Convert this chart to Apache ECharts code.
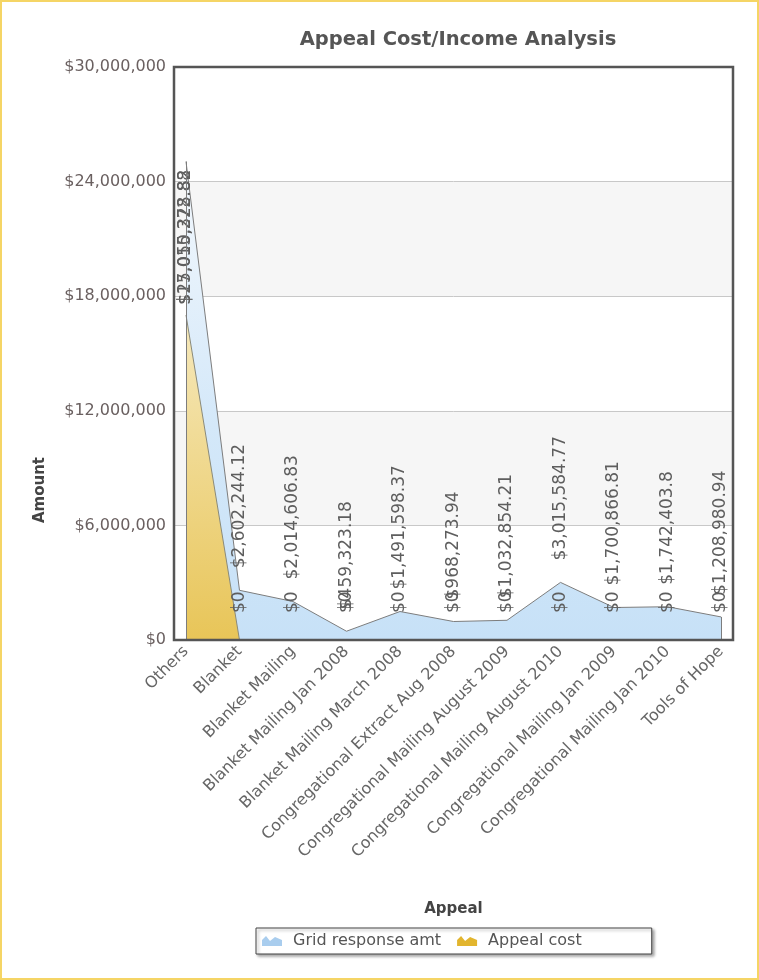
<!DOCTYPE html>
<html>
<head>
<meta charset="utf-8">
<script src="https://cdn.jsdelivr.net/npm/echarts@6/dist/echarts.min.js"></script>
<style>
html,body{margin:0;padding:0;background:#fff;}
#wrap{width:759px;height:980px;box-sizing:border-box;border:2px solid #f5d565;}
#chart{width:755px;height:976px;}
</style>
</head>
<body>
<div id="wrap"><div id="chart"></div></div>
<script>
const categories = ["Others","Blanket","Blanket Mailing","Blanket Mailing Jan 2008","Blanket Mailing March 2008","Congregational Extract Aug 2008","Congregational Mailing August 2009","Congregational Mailing August 2010","Congregational Mailing Jan 2009","Congregational Mailing Jan 2010","Tools of Hope"];
const gridResponse = [25050328.82, 2602244.12, 2014606.83, 459323.18, 1491598.37, 968273.94, 1032854.21, 3015584.77, 1700866.81, 1742403.8, 1208980.94];
const appealCost = [17015272.88, 0, 0, 0, 0, 0, 0, 0, 0, 0, 0];
const seriesNames = ["Grid response amt", "Appeal cost"];
const yMin = 0, yMax = 30000000, yStep = 6000000;

const FONT = "DejaVu Sans";
const money = v => '$' + Number(v).toLocaleString('en-US', {maximumFractionDigits: 2});
const idx = categories.map((c, i) => i);

const baseLabel = {
  show: true, rotate: 90, position: 'top', distance: 22, align: 'left', verticalAlign: 'middle',
  fontFamily: FONT, fontSize: 17, color: '#5e5e5e',
  formatter: p => money(p.value[1])
};

const blueData = gridResponse.map((v, i) => i === 0
  ? {value: [i, v], label: {position: 'bottom', distance: 143}}
  : {value: [i, v]});
const yellowData = appealCost.map((v, i) => i === 0
  ? {value: [i, v], label: {distance: 10}}
  : {value: [i, v]});

const G = {left: 172, right: 24, top: 65, bottom: 338, w: 755, h: 976};

const chart = echarts.init(document.getElementById('chart'));
chart.setOption({
  animation: false,
  title: {
    text: 'Appeal Cost/Income Analysis', left: 451, top: 23, textAlign: 'center',
    textStyle: {fontFamily: FONT, fontWeight: 'bold', fontSize: 19.5, color: '#555'}
  },
  grid: {left: G.left, right: G.right, top: G.top, bottom: G.bottom, show: false},
  legend: {
    data: seriesNames, left: 254, top: 926,
    padding: [5, 70, 5, 6], itemGap: 16, itemWidth: 20, itemHeight: 12,
    icon: 'path://M0,12 L0,6 L4,2 L8,7 L13,3 L20,6 L20,12 Z',
    borderColor: '#444', borderWidth: 1, backgroundColor: '#fff',
    shadowColor: 'rgba(0,0,0,0.35)', shadowBlur: 3, shadowOffsetX: 2, shadowOffsetY: 2,
    textStyle: {fontFamily: FONT, fontSize: 16, color: '#555', padding: [0, 0, 0, 6]}
  },
  xAxis: {
    type: 'value', min: -0.224, max: 10.224,
    name: 'Appeal', nameLocation: 'middle', nameGap: 262,
    nameTextStyle: {fontFamily: FONT, fontWeight: 'bold', fontSize: 15, color: '#444'},
    axisLine: {show: false}, axisTick: {show: false}, splitLine: {show: false},
    axisLabel: {
      customValues: idx, rotate: 45, margin: 9,
      fontFamily: FONT, fontSize: 16, color: '#666',
      formatter: v => categories[Math.round(v)]
    }
  },
  yAxis: {
    type: 'value', min: yMin, max: yMax, interval: yStep,
    axisLine: {show: false}, axisTick: {show: false},
    axisLabel: {fontFamily: FONT, fontSize: 16, color: '#6a6060', margin: 8, formatter: v => money(v)},
    splitLine: {show: true, lineStyle: {color: '#c8c8c8', width: 1}},
    splitArea: {show: true, areaStyle: {color: ['#ffffff', '#f6f6f6']}}
  },
  graphic: [
    {
      type: 'text', left: 31, top: 455, rotation: Math.PI / 2,
      style: {text: 'Amount', fontFamily: FONT, fontWeight: 'bold', fontSize: 15, fill: '#444'}
    },
    {
      type: 'rect', z: 100, silent: true,
      shape: {x: G.left, y: G.top, width: G.w - G.left - G.right, height: G.h - G.top - G.bottom},
      style: {fill: null, stroke: '#555', lineWidth: 2.5}
    }
  ],
  series: [
    {
      name: seriesNames[0], type: 'line', symbol: 'circle', symbolSize: 0, showSymbol: true, data: blueData,
      itemStyle: {color: '#a9cdee'},
      lineStyle: {color: '#7d7d7d', width: 1},
      areaStyle: {opacity: 1, color: new echarts.graphic.LinearGradient(0, 0, 0, 1, [
        {offset: 0, color: '#f3f8fd'}, {offset: 0.55, color: '#d4e8f9'}, {offset: 1, color: '#c7e1f7'}])},
      label: baseLabel,
      markLine: {
        silent: true, symbol: 'none', label: {show: false},
        lineStyle: {color: '#7d7d7d', width: 1, type: 'solid'},
        data: [
          [{coord: [0, 0]}, {coord: [0, gridResponse[0]]}],
          [{coord: [categories.length - 1, 0]}, {coord: [categories.length - 1, gridResponse[categories.length - 1]]}]
        ]
      }
    },
    {
      name: seriesNames[1], type: 'line', symbol: 'circle', symbolSize: 0, showSymbol: true, data: yellowData,
      itemStyle: {color: '#e2b52e'},
      lineStyle: {color: '#8a8a7a', width: 1},
      areaStyle: {opacity: 1, color: new echarts.graphic.LinearGradient(0, 0, 0, 1, [
        {offset: 0, color: '#f6e9bd'}, {offset: 1, color: '#e8c558'}])},
      label: Object.assign({}, baseLabel, {distance: 27})
    }
  ]
});
</script>
</body>
</html>
